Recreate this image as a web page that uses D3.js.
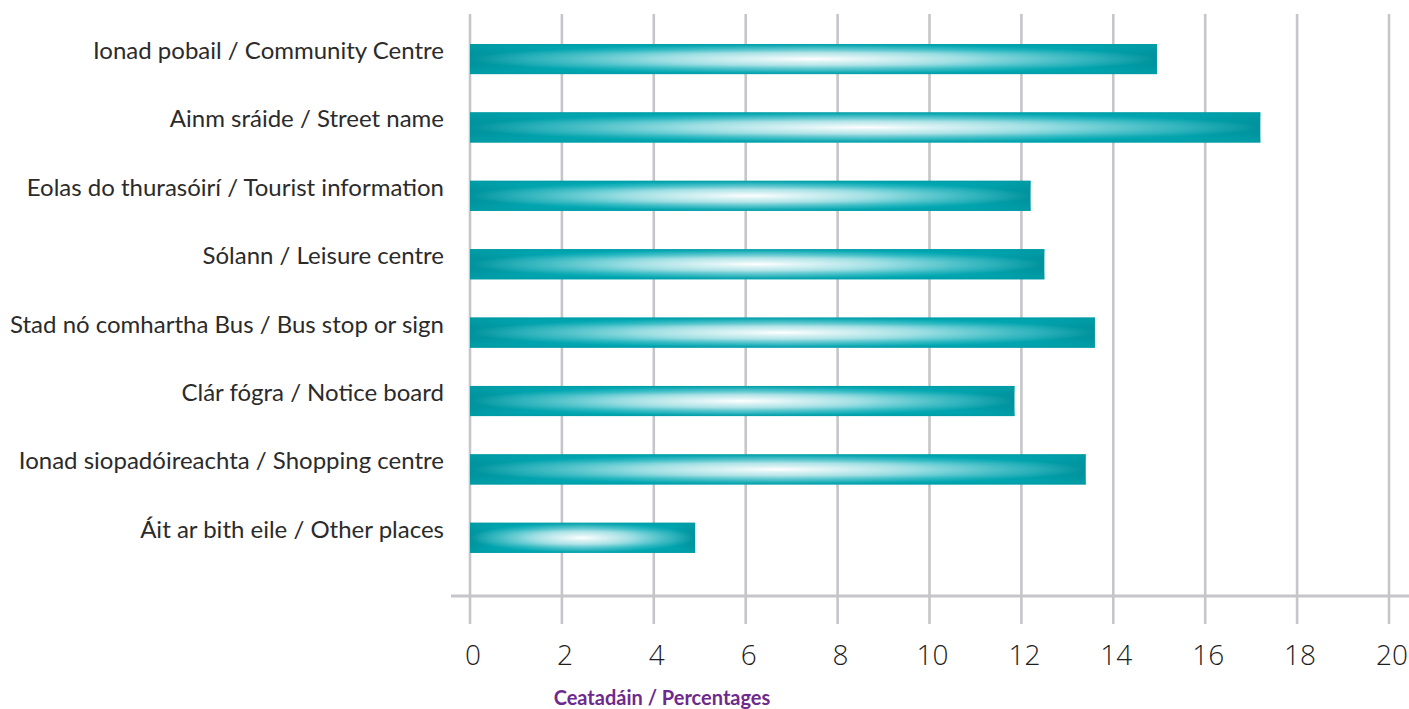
<!DOCTYPE html>
<html>
<head>
<meta charset="utf-8">
<script src="https://cdn.jsdelivr.net/npm/d3@7"></script>
<style>
  html, body { margin: 0; padding: 0; background: #ffffff; }
  svg { display: block; }
</style>
</head>
<body>
<svg id="chart" width="1409" height="709"></svg>
<script>
// Categories (Irish / English) and the share of respondents for each
const categories = [
  "Ionad pobail / Community Centre",
  "Ainm sráide / Street name",
  "Eolas do thurasóirí / Tourist information",
  "Sólann / Leisure centre",
  "Stad nó comhartha Bus / Bus stop or sign",
  "Clár fógra / Notice board",
  "Ionad siopadóireachta / Shopping centre",
  "Áit ar bith eile / Other places"
];
const values = [14.95, 17.2, 12.2, 12.5, 13.6, 11.85, 13.4, 4.9];
const tickValues = [0, 2, 4, 6, 8, 10, 12, 14, 16, 18, 20];
const axisTitle = "Ceatadáin / Percentages";

const svg = d3.select("#chart");
const defs = svg.append("defs");

// Teal tube fill: horizontal base plus an elliptical white sheen
const base = defs.append("linearGradient").attr("id", "barBase")
  .attr("x1", 0).attr("x2", 1).attr("y1", 0).attr("y2", 0);
[[0, "#00939d"], [0.1, "#00a2ad"], [0.25, "#00abb6"], [0.5, "#33b8c2"],
 [0.75, "#00abb6"], [0.9, "#00a2ad"], [1, "#00939d"]]
  .forEach(([o, c]) => base.append("stop").attr("offset", o).attr("stop-color", c));

const sheen = defs.append("radialGradient").attr("id", "barSheen")
  .attr("cx", 0.5).attr("cy", 0.5).attr("r", 0.5);
[[0, 1], [0.15, 0.85], [0.45, 0.6], [0.75, 0.25], [1, 0]]
  .forEach(([o, a]) => sheen.append("stop").attr("offset", o)
    .attr("stop-color", "#ffffff").attr("stop-opacity", a));

const edge = defs.append("linearGradient").attr("id", "barEdge")
  .attr("x1", 0).attr("x2", 0).attr("y1", 0).attr("y2", 1);
[[0, "#009aa4", 0.9], [0.12, "#00a6b0", 0.35], [0.3, "#00a6b0", 0],
 [0.7, "#00a6b0", 0], [0.88, "#00a6b0", 0.35], [1, "#009aa4", 0.9]]
  .forEach(([o, c, a]) => edge.append("stop").attr("offset", o)
    .attr("stop-color", c).attr("stop-opacity", a));

const x = d3.scaleLinear().domain([0, 20]).range([470, 1389]);
const y = d3.scaleBand().domain(categories).range([24.85, 572])
  .paddingInner(0.56).paddingOuter(0.28);

const gridColor = "#c6c6ca";

// Vertical gridlines, running past the axis line as tick marks
svg.append("g").selectAll("line").data(tickValues).join("line")
  .attr("x1", d => x(d)).attr("x2", d => x(d))
  .attr("y1", 14).attr("y2", 624)
  .attr("stroke", gridColor).attr("stroke-width", 2.6);

// Horizontal axis line
svg.append("line")
  .attr("x1", 451).attr("x2", 1409).attr("y1", 596).attr("y2", 596)
  .attr("stroke", gridColor).attr("stroke-width", 3);

// Bars
const bars = svg.append("g").selectAll("g").data(categories).join("g");
["barBase", "barSheen", "barEdge"].forEach(id => {
  bars.append("rect")
    .attr("x", x(0)).attr("y", d => y(d))
    .attr("width", d => x(values[categories.indexOf(d)]) - x(0))
    .attr("height", y.bandwidth())
    .attr("fill", `url(#${id})`);
});

// Category labels
svg.append("g").selectAll("text").data(categories).join("text")
  .attr("x", 444).attr("y", d => y(d) + y.bandwidth() / 2)
  .attr("text-anchor", "end")
  .attr("font-family", "Lato, 'Open Sans', sans-serif")
  .attr("font-size", 24)
  .attr("fill", "#2b2b2b")
  .text(d => d);

// Tick labels
svg.append("g").selectAll("text").data(tickValues).join("text")
  .attr("x", d => x(d) + 3).attr("y", 665)
  .attr("text-anchor", "middle")
  .attr("font-family", "'Open Sans', Lato, sans-serif")
  .attr("font-weight", 300)
  .attr("font-size", 28)
  .attr("fill", "#1e1e1e")
  .text(d => d);

// Axis title
svg.append("text")
  .attr("x", 662).attr("y", 705)
  .attr("text-anchor", "middle")
  .attr("font-family", "Lato, 'Open Sans', sans-serif")
  .attr("font-weight", 700)
  .attr("font-size", 20)
  .attr("fill", "#6e2a8c")
  .text(axisTitle);
</script>
</body>
</html>
